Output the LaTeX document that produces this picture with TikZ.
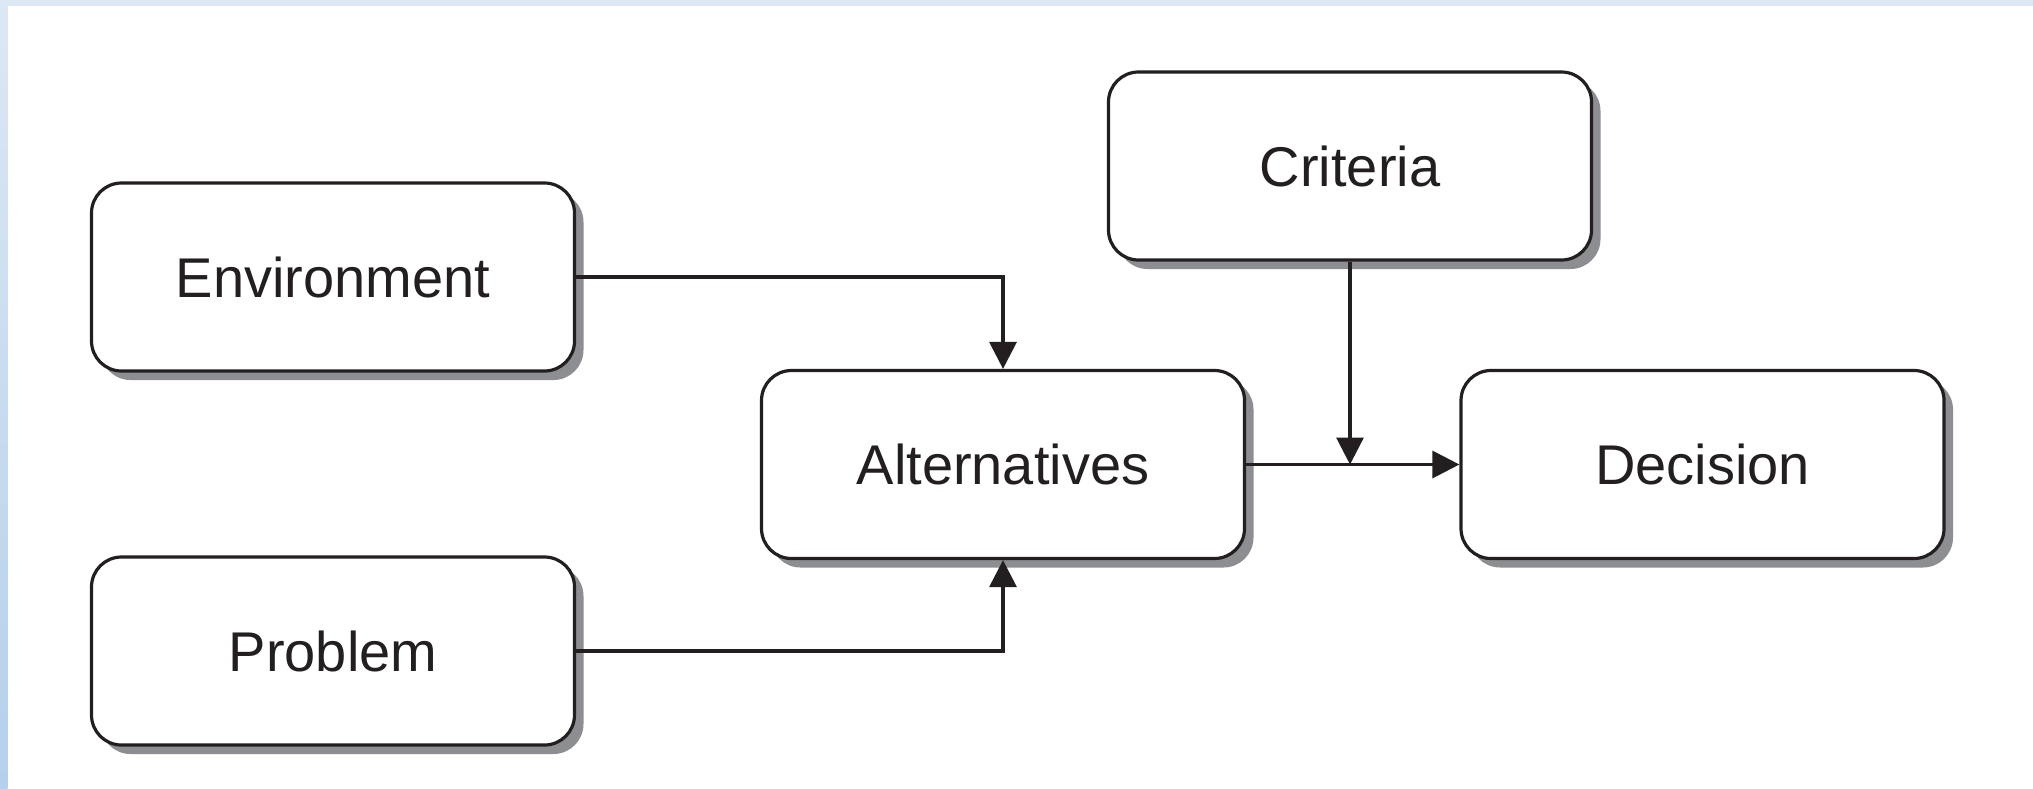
\documentclass[tikz,border=0pt]{standalone}
\usepackage{fontspec}
\setmainfont{Liberation Sans}
\usetikzlibrary{arrows.meta,shadows}
\definecolor{shadowgray}{HTML}{8C8E92}
\definecolor{topblue}{HTML}{DCE8F4}
\definecolor{botblue}{HTML}{B4D0EC}
\definecolor{ink}{HTML}{231F20}
\begin{document}
\begin{tikzpicture}[x=1pt,y=-1pt,
  box/.style={draw=ink, line width=3.2pt, rounded corners=30pt, fill=white,
    minimum width=483pt, minimum height=188pt, inner sep=0pt, text=ink,
    font=\fontsize{56}{60}\selectfont,
    drop shadow={shadow xshift=9pt, shadow yshift=-9pt, fill=shadowgray, opacity=1}},
  conn/.style={line width=3.2pt, draw=ink, -{Triangle[length=27pt,width=27pt]}}]
\useasboundingbox (0,0) rectangle (2033,788);
\fill[white] (0,0) rectangle (2033,788);
\fill[topblue] (0,0) rectangle (2033,5.5);
\shade[top color=topblue, bottom color=botblue] (0,0) rectangle (7.6,788);

\node[box] (env) at (333,277) {Environment};
\node[box] (prob) at (333,651) {Problem};
\node[box] (alt) at (1003,464.5) {Alternatives};
\node[box] (crit) at (1350,166) {Criteria};
\node[box] (dec) at (1702.5,464.5) {Decision};

\draw[conn] (env.east) -| (alt.north);
\draw[conn] (prob.east) -| (alt.south);
\draw[conn] (alt.east) -- (dec.west);
\draw[conn] (crit.south) -- (crit.south |- alt.east);
\end{tikzpicture}
\end{document}
